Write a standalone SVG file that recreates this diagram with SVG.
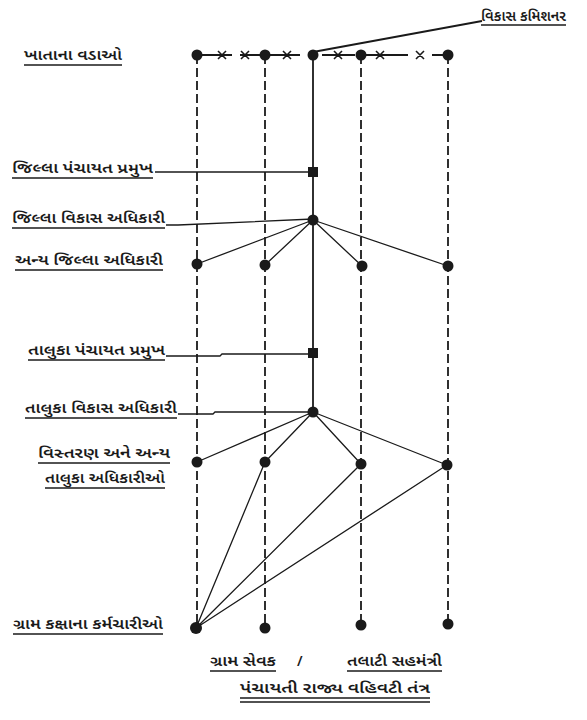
<svg xmlns="http://www.w3.org/2000/svg" width="587" height="720" viewBox="0 0 587 720">
<style>
.t{font-family:"Noto Sans Gujarati","Noto Sans","Lohit Gujarati",sans-serif;font-size:14px;font-weight:600;fill:#1a1a1a}
.u{stroke:#1a1a1a;stroke-width:1.6;fill:none}
.s{stroke:#1a1a1a;stroke-width:1.8;fill:none}
.d{stroke:#1a1a1a;stroke-width:1.8;fill:none;stroke-dasharray:9 4}
.f{stroke:#1a1a1a;stroke-width:1.3;fill:none}
.x{stroke:#1a1a1a;stroke-width:1.6;fill:none}
.n{fill:#1a1a1a}
</style>
<rect width="587" height="720" fill="#fff"/>
<g id="connectors">
<line class="d" x1="197" y1="55" x2="197" y2="628"/>
<line class="d" x1="265" y1="55" x2="265" y2="628"/>
<line class="d" x1="361" y1="55" x2="361" y2="626"/>
<line class="d" x1="448" y1="55" x2="448" y2="625"/>
<line class="s" x1="313" y1="55" x2="313" y2="412"/>
<path class="s" d="M197 55H232M240 55H265H300M322 55H355M365 55H408M432 55H448"/>
<path class="s" d="M313 52L482 21"/>
<path class="f" d="M155 172H313"/>
<path class="f" d="M166 225H178L313 219"/>
<path class="f" d="M166 356H220L222 354H313"/>
<path class="f" d="M178 414H213L215 412H313"/>
<path class="f" d="M313 220L197 264M313 220L265 265M313 220L362 266M313 220L448 266"/>
<path class="f" d="M313 412L197 462M313 412L265 462M313 412L361 464M313 412L447 465"/>
<path class="f" d="M196 628L265 462M196 628L361 464M196 628L447 465"/>
</g>
<g id="crosses">
<path class="x" d="M218 51l8 8M226 51l-8 8M241 51l8 8M249 51l-8 8M283 51l8 8M291 51l-8 8M334 51l8 8M342 51l-8 8M376 51l8 8M384 51l-8 8M416 51l8 8M424 51l-8 8"/>
</g>
<g id="top-dots">
<circle class="n" cx="197" cy="55" r="5.5"/>
<circle class="n" cx="265" cy="55" r="5.5"/>
<circle class="n" cx="313" cy="55" r="5.5"/>
<circle class="n" cx="361" cy="55" r="5.5"/>
<circle class="n" cx="448" cy="55" r="5.5"/>
</g>
<g id="n-vikas-commissioner">
<text class="t" x="481" y="21" textLength="85" lengthAdjust="spacingAndGlyphs">વિકાસ કમિશનર</text>
<path class="u" d="M481 25H566"/>
</g>
<g id="n-khata">
<text class="t" x="24" y="60" textLength="98" lengthAdjust="spacingAndGlyphs">ખાતાના વડાઓ</text>
<path class="u" d="M24 65H122"/>
</g>
<g id="n-jilla-pramukh">
<text class="t" x="12" y="173" textLength="141" lengthAdjust="spacingAndGlyphs">જિલ્લા પંચાયત પ્રમુખ</text>
<path class="u" d="M12 178H153"/>
<rect class="n" x="308" y="167" width="10" height="10"/>
</g>
<g id="n-jilla-vikas">
<text class="t" x="12" y="223" textLength="153" lengthAdjust="spacingAndGlyphs">જિલ્લા વિકાસ અધિકારી</text>
<path class="u" d="M12 228H165"/>
<circle class="n" cx="313" cy="220" r="5.5"/>
</g>
<g id="n-anya-jilla">
<text class="t" x="15" y="265" textLength="148" lengthAdjust="spacingAndGlyphs">અન્ય જિલ્લા અધિકારી</text>
<path class="u" d="M15 270H163"/>
<circle class="n" cx="197" cy="264" r="5.5"/>
<circle class="n" cx="265" cy="265" r="5.5"/>
<circle class="n" cx="362" cy="266" r="5.5"/>
<circle class="n" cx="448" cy="266" r="5.5"/>
</g>
<g id="n-taluka-pramukh">
<text class="t" x="28" y="355" textLength="137" lengthAdjust="spacingAndGlyphs">તાલુકા પંચાયત પ્રમુખ</text>
<path class="u" d="M28 360H165"/>
<rect class="n" x="308" y="348" width="10" height="10"/>
</g>
<g id="n-taluka-vikas">
<text class="t" x="25" y="413" textLength="152" lengthAdjust="spacingAndGlyphs">તાલુકા વિકાસ અધિકારી</text>
<path class="u" d="M25 418H177"/>
<circle class="n" cx="313" cy="412" r="5.5"/>
</g>
<g id="n-vistaran">
<text class="t" x="38" y="458" textLength="132" lengthAdjust="spacingAndGlyphs">વિસ્તરણ અને અન્ય</text>
<path class="u" d="M38 463H170"/>
<text class="t" x="45" y="483" textLength="120" lengthAdjust="spacingAndGlyphs">તાલુકા અધિકારીઓ</text>
<path class="u" d="M45 488H165"/>
<circle class="n" cx="197" cy="462" r="5.5"/>
<circle class="n" cx="265" cy="462" r="5.5"/>
<circle class="n" cx="361" cy="464" r="5.5"/>
<circle class="n" cx="447" cy="465" r="5.5"/>
</g>
<g id="n-gram">
<text class="t" x="13" y="629" textLength="150" lengthAdjust="spacingAndGlyphs">ગ્રામ કક્ષાના કર્મચારીઓ</text>
<path class="u" d="M13 634H163"/>
<circle class="n" cx="196" cy="628" r="6"/>
<circle class="n" cx="265" cy="628" r="5.5"/>
<circle class="n" cx="361" cy="625" r="5.5"/>
<circle class="n" cx="448" cy="624" r="5.5"/>
</g>
<g id="n-bottom">
<text class="t" x="210" y="666" textLength="66" lengthAdjust="spacingAndGlyphs">ગ્રામ સેવક</text>
<path class="u" d="M210 671H276"/>
<text class="t" x="297" y="666">/</text>
<text class="t" x="347" y="666" textLength="95" lengthAdjust="spacingAndGlyphs">તલાટી સહમંત્રી</text>
<path class="u" d="M347 671H442"/>
<text class="t" x="240" y="693" textLength="190" lengthAdjust="spacingAndGlyphs">પંચાયતી રાજ્ય વહિવટી તંત્ર</text>
<path class="u" d="M240 698H430M240 702H430"/>
</g>
</svg>
